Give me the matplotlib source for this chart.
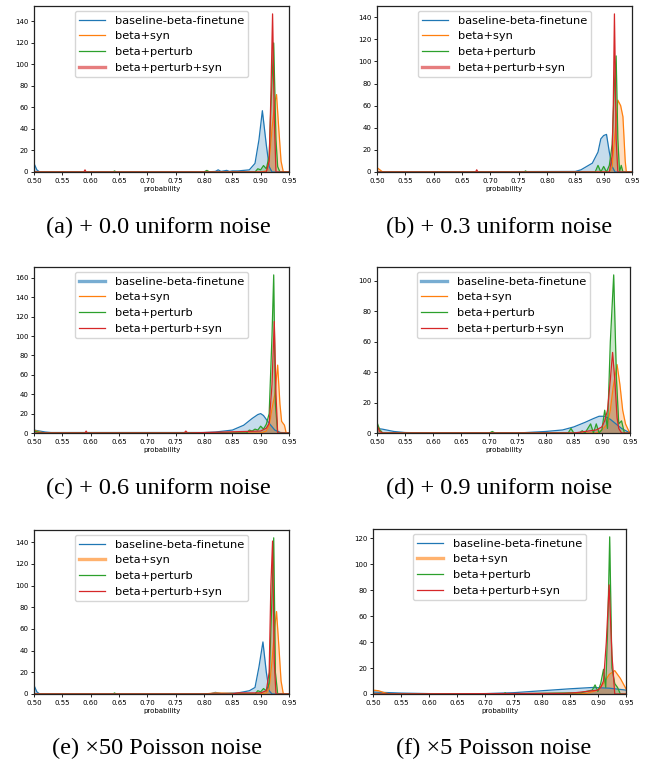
import numpy as np
import matplotlib
matplotlib.use("Agg")
import matplotlib.pyplot as plt
from matplotlib.lines import Line2D

# Series names and colours (tab10)
labels = ["baseline-beta-finetune", "beta+syn", "beta+perturb", "beta+perturb+syn"]
colors = ["#1f77b4", "#ff7f0e", "#2ca02c", "#d62728"]

captions = ["(a) + 0.0 uniform noise", "(b) + 0.3 uniform noise",
            "(c) + 0.6 uniform noise", "(d) + 0.9 uniform noise",
            "(e) \u00d750 Poisson noise", "(f) \u00d75 Poisson noise"]

# density curves: (x, y) per series
# (a) + 0.0 uniform
a_blue_x = [0.50, 0.505, 0.51, 0.52, 0.80, 0.82, 0.825, 0.83, 0.84, 0.845, 0.85, 0.86, 0.87, 0.88, 0.89, 0.897, 0.903, 0.91, 0.915, 0.92, 0.95]
a_blue_y = [8, 2, 0, 0, 0, 0.5, 2, 0.5, 1.5, 0.5, 1, 1, 1.5, 2, 8, 30, 57, 25, 5, 0, 0]
a_orange_x = [0.50, 0.90, 0.91, 0.915, 0.92, 0.925, 0.928, 0.932, 0.936, 0.94, 0.95]
a_orange_y = [0, 0, 1, 10, 40, 65, 72, 40, 10, 0, 0]
a_green_x = [0.50, 0.64, 0.642, 0.645, 0.80, 0.805, 0.81, 0.89, 0.895, 0.90, 0.905, 0.91, 0.915, 0.918, 0.923, 0.927, 0.93, 0.934, 0.95]
a_green_y = [0, 0, 1, 0, 0, 1.5, 0, 0, 3, 2, 6, 3, 15, 60, 120, 30, 5, 0, 0]
a_red_x = [0.50, 0.588, 0.59, 0.592, 0.91, 0.915, 0.918, 0.921, 0.924, 0.927, 0.95]
a_red_y = [0, 0, 2, 0, 0, 10, 70, 147, 50, 0, 0]

# (b) + 0.3 uniform
b_blue_x = [0.50, 0.85, 0.86, 0.87, 0.88, 0.89, 0.895, 0.90, 0.905, 0.91, 0.915, 0.92, 0.95]
b_blue_y = [0, 0.5, 2, 5, 8, 18, 30, 33, 34, 18, 5, 0, 0]
b_orange_x = [0.50, 0.505, 0.51, 0.91, 0.915, 0.92, 0.925, 0.93, 0.934, 0.938, 0.94, 0.95]
b_orange_y = [4, 2, 0, 0, 5, 35, 65, 60, 50, 10, 0, 0]
b_green_x = [0.50, 0.76, 0.762, 0.765, 0.85, 0.885, 0.89, 0.895, 0.90, 0.905, 0.91, 0.915, 0.919, 0.922, 0.925, 0.928, 0.931, 0.934, 0.95]
b_green_y = [0, 0, 1, 0, 0, 0, 6, 0, 5, 0, 6, 25, 80, 105, 30, 0, 6, 0, 0]
b_red_x = [0.50, 0.674, 0.676, 0.678, 0.91, 0.915, 0.917, 0.919, 0.922, 0.925, 0.95]
b_red_y = [0, 0, 2, 0, 0, 15, 60, 143, 30, 0, 0]

# (c) + 0.6 uniform
c_blue_x = [0.50, 0.51, 0.52, 0.53, 0.80, 0.82, 0.85, 0.87, 0.885, 0.895, 0.90, 0.905, 0.915, 0.925, 0.935, 0.95]
c_blue_y = [3, 2, 1, 0.5, 0.5, 1, 3, 8, 15, 19, 20, 18, 10, 3, 0.5, 0]
c_orange_x = [0.50, 0.51, 0.52, 0.90, 0.91, 0.915, 0.92, 0.925, 0.93, 0.934, 0.937, 0.942, 0.945, 0.95]
c_orange_y = [3, 1, 0, 0, 2, 8, 25, 40, 70, 30, 12, 8, 0, 0]
c_green_x = [0.50, 0.51, 0.52, 0.875, 0.88, 0.885, 0.89, 0.895, 0.90, 0.905, 0.91, 0.915, 0.92, 0.923, 0.926, 0.93, 0.95]
c_green_y = [2, 0.5, 0, 0, 3, 2, 4, 3, 7, 4, 9, 20, 100, 163, 30, 0, 0]
c_red_x = [0.50, 0.59, 0.592, 0.594, 0.765, 0.768, 0.771, 0.90, 0.91, 0.915, 0.92, 0.924, 0.927, 0.93, 0.95]
c_red_y = [0, 0, 2, 0, 0, 2, 0, 2, 5, 10, 50, 115, 40, 0, 0]

# (d) + 0.9 uniform
d_blue_x = [0.50, 0.51, 0.53, 0.55, 0.60, 0.75, 0.80, 0.83, 0.85, 0.87, 0.885, 0.895, 0.905, 0.915, 0.925, 0.935, 0.945, 0.95]
d_blue_y = [3, 2.5, 1, 0.3, 0, 0, 1, 2, 4, 7, 9.5, 11, 11, 9, 6, 3, 1, 0.5]
d_orange_x = [0.50, 0.505, 0.51, 0.89, 0.90, 0.91, 0.915, 0.92, 0.927, 0.932, 0.937, 0.942, 0.947, 0.95]
d_orange_y = [5, 2, 0, 0, 2, 6, 15, 30, 45, 32, 15, 6, 2, 0]
d_green_x = [0.50, 0.505, 0.51, 0.70, 0.705, 0.71, 0.84, 0.845, 0.85, 0.86, 0.865, 0.87, 0.88, 0.885, 0.89, 0.895, 0.90, 0.905, 0.91, 0.915, 0.921, 0.926, 0.93, 0.935, 0.94, 0.95]
d_green_y = [7, 2, 0, 0, 1, 0, 0, 3, 0, 0, 1.5, 0, 6, 0, 6, 0, 2, 15, 3, 60, 104, 35, 6, 8, 0, 0]
d_red_x = [0.50, 0.505, 0.51, 0.85, 0.87, 0.89, 0.90, 0.905, 0.91, 0.915, 0.919, 0.923, 0.927, 0.93, 0.935, 0.95]
d_red_y = [5, 1, 0, 0, 1, 2, 4, 8, 15, 35, 53, 35, 10, 3, 0, 0]

# (e) x50 Poisson
e_blue_x = [0.50, 0.505, 0.51, 0.52, 0.81, 0.82, 0.83, 0.86, 0.87, 0.88, 0.89, 0.897, 0.904, 0.91, 0.915, 0.92, 0.95]
e_blue_y = [8, 2, 0, 0, 0, 1.5, 0.5, 1, 2, 3, 6, 25, 48, 20, 3, 0, 0]
e_orange_x = [0.50, 0.80, 0.82, 0.90, 0.91, 0.915, 0.92, 0.925, 0.928, 0.932, 0.936, 0.94, 0.95]
e_orange_y = [0, 0, 1, 0, 1, 5, 30, 62, 76, 45, 12, 0, 0]
e_green_x = [0.50, 0.64, 0.642, 0.645, 0.89, 0.895, 0.90, 0.905, 0.91, 0.915, 0.92, 0.923, 0.926, 0.93, 0.95]
e_green_y = [0, 0, 1, 0, 0, 3, 2, 5, 3, 10, 90, 144, 20, 0, 0]
e_red_x = [0.50, 0.85, 0.86, 0.90, 0.91, 0.915, 0.918, 0.921, 0.924, 0.927, 0.95]
e_red_y = [0, 0, 1, 1, 3, 20, 100, 141, 30, 0, 0]

# (f) x5 Poisson
f_blue_x = [0.50, 0.52, 0.55, 0.60, 0.65, 0.70, 0.75, 0.80, 0.85, 0.89, 0.92, 0.95]
f_blue_y = [1.5, 1.2, 0.7, 0.3, 0.2, 0.3, 1, 2.5, 4, 5, 4.5, 3]
f_orange_x = [0.50, 0.51, 0.52, 0.53, 0.88, 0.90, 0.91, 0.92, 0.93, 0.94, 0.95]
f_orange_y = [3, 2.5, 1, 0, 0.5, 3, 8, 15, 18, 12, 4]
f_green_x = [0.50, 0.733, 0.735, 0.737, 0.87, 0.88, 0.89, 0.895, 0.90, 0.905, 0.91, 0.914, 0.918, 0.921, 0.925, 0.93, 0.935, 0.94, 0.95]
f_green_y = [0, 0, 1, 0, 1, 2, 3, 7, 2, 8, 19, 5, 60, 121, 20, 8, 5, 0, 0]
f_red_x = [0.50, 0.84, 0.86, 0.88, 0.90, 0.905, 0.91, 0.915, 0.92, 0.925, 0.93, 0.95]
f_red_y = [0, 0.5, 1, 2, 3, 5, 10, 40, 84, 30, 0, 0]

panels = [
    [(a_blue_x, a_blue_y), (a_orange_x, a_orange_y), (a_green_x, a_green_y), (a_red_x, a_red_y)],
    [(b_blue_x, b_blue_y), (b_orange_x, b_orange_y), (b_green_x, b_green_y), (b_red_x, b_red_y)],
    [(c_blue_x, c_blue_y), (c_orange_x, c_orange_y), (c_green_x, c_green_y), (c_red_x, c_red_y)],
    [(d_blue_x, d_blue_y), (d_orange_x, d_orange_y), (d_green_x, d_green_y), (d_red_x, d_red_y)],
    [(e_blue_x, e_blue_y), (e_orange_x, e_orange_y), (e_green_x, e_green_y), (e_red_x, e_red_y)],
    [(f_blue_x, f_blue_y), (f_orange_x, f_orange_y), (f_green_x, f_green_y), (f_red_x, f_red_y)],
]

# which legend entry shows up thick/pale in each panel
thick_entry = [3, 3, 0, 0, 1, 1]

W, H = 657, 762
fig = plt.figure(figsize=(W / 100, H / 100), dpi=100)

# axes boxes in pixels: left, right, top, bottom
boxes = [(34, 289, 6, 172), (377, 632, 6, 172),
         (34, 289, 267, 433), (377, 630, 267, 433),
         (34, 289, 530, 694), (373, 626, 529, 694)]
cap_pos = [(158, 227), (499, 227), (158, 488), (499, 488), (157, 748), (494, 748)]

for i, (series, box) in enumerate(zip(panels, boxes)):
    l, r, t, b = box
    ax = fig.add_axes([l / W, 1 - b / H, (r - l) / W, (b - t) / H])
    for (xs, ys), c in zip(series, colors):
        ax.plot(xs, ys, color=c, lw=0.9)
        ax.fill_between(xs, ys, color=c, alpha=0.25, lw=0)
    ax.set_xlim(0.5, 0.95)
    ax.set_ylim(bottom=0)
    ax.set_xticks(np.arange(0.5, 0.951, 0.05))
    ax.set_xlabel("probability", fontsize=5, labelpad=2)
    ax.tick_params(labelsize=5, length=2.5, width=0.6, pad=1.5)
    for s in ax.spines.values():
        s.set_linewidth(0.9)
        s.set_color("#222222")
    handles = []
    for k, c in enumerate(colors):
        if k == thick_entry[i]:
            handles.append(Line2D([], [], color=c, lw=2.4, alpha=0.6))
        else:
            handles.append(Line2D([], [], color=c, lw=0.9))
    ax.legend(handles, labels, loc="upper center", fontsize=8.2,
              borderaxespad=0.45, handlelength=2.3, framealpha=0.8)
    fig.text(cap_pos[i][0] / W, 1 - cap_pos[i][1] / H, captions[i],
             family="Liberation Serif", fontsize=17.5, ha="center", va="center")

fig.savefig("out.png", dpi=100)
